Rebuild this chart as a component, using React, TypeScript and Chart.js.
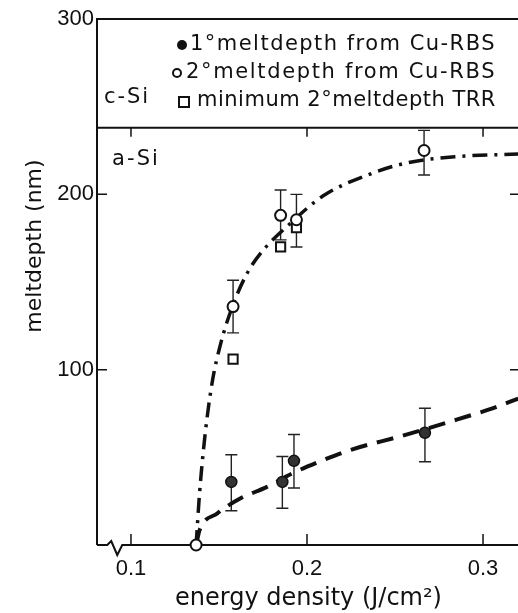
import React, { useEffect, useRef } from "react";
import { Chart, registerables } from "chart.js";
Chart.register(...registerables);

// ---- data ----
const xTicks = [0.1, 0.2, 0.3];
const yTicks = [100, 200, 300];
const xMin = 0.0807;
const xMax = 0.321;
const yMin = 0;
const yMax = 300;

// 1° meltdepth from Cu-RBS (filled circles)
const energy1 = [0.157, 0.186, 0.1926, 0.267];
const melt1 = [36, 36, 48, 64];
const melt1Low = [19.5, 21, 32.5, 47.5];
const melt1High = [51.5, 50.5, 63, 78];

// 2° meltdepth from Cu-RBS (open circles)
const energy2 = [0.137, 0.158, 0.185, 0.194, 0.2665];
const melt2 = [0, 136, 188, 185.5, 225];
const melt2Low: (number | null)[] = [null, 121, 174, 170, 211];
const melt2High: (number | null)[] = [null, 151, 202.5, 200, 236.5];

// minimum 2° meltdepth TRR (open squares)
const energyTRR = [0.158, 0.185, 0.194];
const meltTRR = [106, 170, 181];

// dash-dot guide curve (2° melt)
const fit2Energy = [0.137, 0.139, 0.142, 0.146, 0.151, 0.158, 0.166, 0.175, 0.189, 0.209, 0.237, 0.257, 0.285, 0.32];
const fit2Melt = [0, 30, 62, 92, 115, 137, 155, 168, 182, 199, 212, 218, 221.5, 223];

// dashed guide curve (1° melt)
const fit1Energy = [0.137, 0.139, 0.149, 0.162, 0.177, 0.192, 0.207, 0.224, 0.253, 0.272, 0.285, 0.304, 0.32];
const fit1Melt = [0, 8.5, 18, 26.5, 33, 41, 47.5, 54, 62, 67.5, 71.5, 77.5, 83.5];

const interfaceDepth = 238; // c-Si / a-Si boundary
const breakEnergy = 0.0905; // axis break position

const legendLines = ["1°meltdepth from Cu-RBS", "2°meltdepth from Cu-RBS", "minimum 2°meltdepth TRR"];
const regionLabels = ["c-Si", "a-Si"];
const yTitle = "meltdepth (nm)";
const xTitle = "energy density (J/cm²)";

const toPts = (xs: number[], ys: (number | null)[]) => xs.map((x, i) => ({ x, y: ys[i] as number }));

function fitText(ctx: CanvasRenderingContext2D, text: string, x0: number, x1: number, y: number) {
  const c: any = ctx;
  c.letterSpacing = "0px";
  const w = ctx.measureText(text).width;
  const n = Array.from(text).length;
  const ls = (x1 - x0 - w) / n;
  c.letterSpacing = ls.toFixed(2) + "px";
  ctx.textAlign = "left";
  ctx.fillText(text, x0, y);
  c.letterSpacing = "0px";
}

const framePlugin = {
  id: "frame",
  beforeDatasetsDraw(chart: any) {
    const { ctx, chartArea: a, scales } = chart;
    const x = scales.x;
    const y = scales.y;
    ctx.save();
    ctx.strokeStyle = "#111";
    ctx.lineWidth = 2;
    ctx.lineCap = "butt";
    // left, top and right border
    ctx.beginPath();
    ctx.moveTo(a.left, a.bottom);
    ctx.lineTo(a.left, a.top);
    ctx.lineTo(a.right, a.top);
    ctx.lineTo(a.right, a.bottom);
    ctx.stroke();
    // bottom axis with break
    const bx = x.getPixelForValue(breakEnergy);
    ctx.beginPath();
    ctx.moveTo(a.left, a.bottom);
    ctx.lineTo(bx - 7, a.bottom);
    ctx.lineTo(bx - 3, a.bottom - 4);
    ctx.lineTo(bx + 3, a.bottom + 10);
    ctx.lineTo(bx + 8, a.bottom);
    ctx.lineTo(a.right, a.bottom);
    ctx.stroke();
    // interface line
    const iy = y.getPixelForValue(interfaceDepth);
    ctx.beginPath();
    ctx.moveTo(a.left, iy);
    ctx.lineTo(a.right, iy);
    ctx.stroke();
    // ticks
    ctx.lineWidth = 1.5;
    ctx.beginPath();
    xTicks.forEach((v) => {
      const px = x.getPixelForValue(v);
      ctx.moveTo(px, a.bottom);
      ctx.lineTo(px, a.bottom - 11);
      ctx.moveTo(px, iy);
      ctx.lineTo(px, iy + 9);
    });
    yTicks.slice(0, 2).forEach((v) => {
      const py = y.getPixelForValue(v);
      ctx.moveTo(a.left, py);
      ctx.lineTo(a.left + 10, py);
      ctx.moveTo(a.right, py);
      ctx.lineTo(a.right - 10, py);
    });
    ctx.stroke();
    // error bars
    ctx.strokeStyle = "#222";
    ctx.lineWidth = 1.4;
    const sets: [number[], (number | null)[], (number | null)[]][] = [
      [energy1, melt1Low, melt1High],
      [energy2, melt2Low, melt2High],
    ];
    ctx.beginPath();
    sets.forEach(([es, lo, hi]) => {
      es.forEach((e, i) => {
        const l = lo[i];
        const h = hi[i];
        if (l == null || h == null) return;
        const px = x.getPixelForValue(e);
        const p1 = y.getPixelForValue(l);
        const p2 = y.getPixelForValue(h);
        ctx.moveTo(px, p1);
        ctx.lineTo(px, p2);
        ctx.moveTo(px - 6, p1);
        ctx.lineTo(px + 6, p1);
        ctx.moveTo(px - 6, p2);
        ctx.lineTo(px + 6, p2);
      });
    });
    ctx.stroke();
    ctx.restore();
  },
  afterDatasetsDraw(chart: any) {
    const { ctx } = chart;
    ctx.save();
    ctx.fillStyle = "#111";
    ctx.strokeStyle = "#111";
    ctx.font = "21px 'DejaVu Sans'";
    ctx.textBaseline = "middle";
    const rows = [45, 73, 101];
    const starts = [190, 186, 197];
    legendLines.forEach((t, i) => fitText(ctx, t, starts[i], 496, rows[i]));
    fitText(ctx, regionLabels[0], 104, 150, 98);
    fitText(ctx, regionLabels[1], 112, 160, 160);
    // legend markers
    ctx.lineWidth = 2;
    ctx.beginPath();
    ctx.arc(182, 45, 5, 0, Math.PI * 2);
    ctx.fill();
    ctx.beginPath();
    ctx.arc(177, 73, 4, 0, Math.PI * 2);
    ctx.stroke();
    ctx.strokeRect(179, 97, 10, 10);
    // y axis title
    ctx.font = "22px 'DejaVu Sans'";
    ctx.textAlign = "center";
    ctx.translate(35, 246);
    ctx.rotate(-Math.PI / 2);
    ctx.fillText(yTitle, 0, 0);
    ctx.restore();
  },
};

export default function App() {
  const ref = useRef<HTMLCanvasElement | null>(null);
  useEffect(() => {
    if (!ref.current) return;
    const chart = new Chart(ref.current, {
      type: "scatter",
      data: {
        datasets: [
          {
            label: "1° meltdepth from Cu-RBS",
            data: toPts(energy1, melt1),
            pointStyle: "circle",
            pointRadius: 5.5,
            backgroundColor: "#333",
            borderColor: "#111",
            borderWidth: 1.5,
            clip: 12,
          } as any,
          {
            label: "2° meltdepth from Cu-RBS",
            data: toPts(energy2, melt2),
            pointStyle: "circle",
            pointRadius: 5.5,
            backgroundColor: "#fff",
            borderColor: "#111",
            borderWidth: 2,
            clip: 12,
          } as any,
          {
            label: "minimum 2° meltdepth TRR",
            data: toPts(energyTRR, meltTRR),
            pointStyle: "rect",
            pointRadius: 6.5,
            backgroundColor: "#fff",
            borderColor: "#111",
            borderWidth: 2,
            clip: 12,
          } as any,
          {
            label: "fit 2",
            data: toPts(fit2Energy, fit2Melt),
            showLine: true,
            pointRadius: 0,
            borderColor: "#111",
            borderWidth: 3.5,
            borderDash: [15, 7, 3, 7],
            cubicInterpolationMode: "monotone",
            fill: false,
          } as any,
          {
            label: "fit 1",
            data: toPts(fit1Energy, fit1Melt),
            showLine: true,
            pointRadius: 0,
            borderColor: "#111",
            borderWidth: 4,
            borderDash: [17, 10],
            cubicInterpolationMode: "monotone",
            fill: false,
          } as any,
        ],
      },
      options: {
        animation: false,
        responsive: false,
        devicePixelRatio: 1,
        layout: { padding: { top: 19, right: 20, left: 0, bottom: 0 } },
        plugins: { legend: { display: false }, tooltip: { enabled: false } },
        scales: {
          x: {
            type: "linear",
            min: xMin,
            max: xMax,
            afterBuildTicks: (s: any) => {
              s.ticks = xTicks.map((v) => ({ value: v }));
            },
            afterFit: (s: any) => {
              s.height = 68;
            },
            ticks: {
              callback: (v: any) => Number(v).toFixed(1),
              font: { family: "'Liberation Sans'", size: 22 },
              color: "#111",
              padding: 11,
              maxRotation: 0,
            },
            grid: { display: false, drawTicks: false },
            border: { display: false },
            title: {
              display: true,
              text: xTitle,
              font: { family: "'DejaVu Sans'", size: 24 },
              color: "#111",
              padding: { top: 0, bottom: 0 },
            },
          },
          y: {
            type: "linear",
            min: yMin,
            max: yMax,
            afterBuildTicks: (s: any) => {
              s.ticks = yTicks.map((v) => ({ value: v }));
            },
            afterFit: (s: any) => {
              s.width = 97;
            },
            ticks: {
              font: { family: "'Liberation Sans'", size: 22 },
              color: "#111",
              padding: 3,
            },
            grid: { display: false, drawTicks: false },
            border: { display: false },
            title: { display: false, text: yTitle },
          },
        },
      },
      plugins: [framePlugin],
    } as any);
    return () => chart.destroy();
  }, []);
  return (
    <div style={{ position: "fixed", left: 0, top: 0, width: 518, height: 613, overflow: "hidden", background: "#fff" }}>
      <canvas ref={ref} width={540} height={613} style={{ display: "block" }} />
    </div>
  );
}
